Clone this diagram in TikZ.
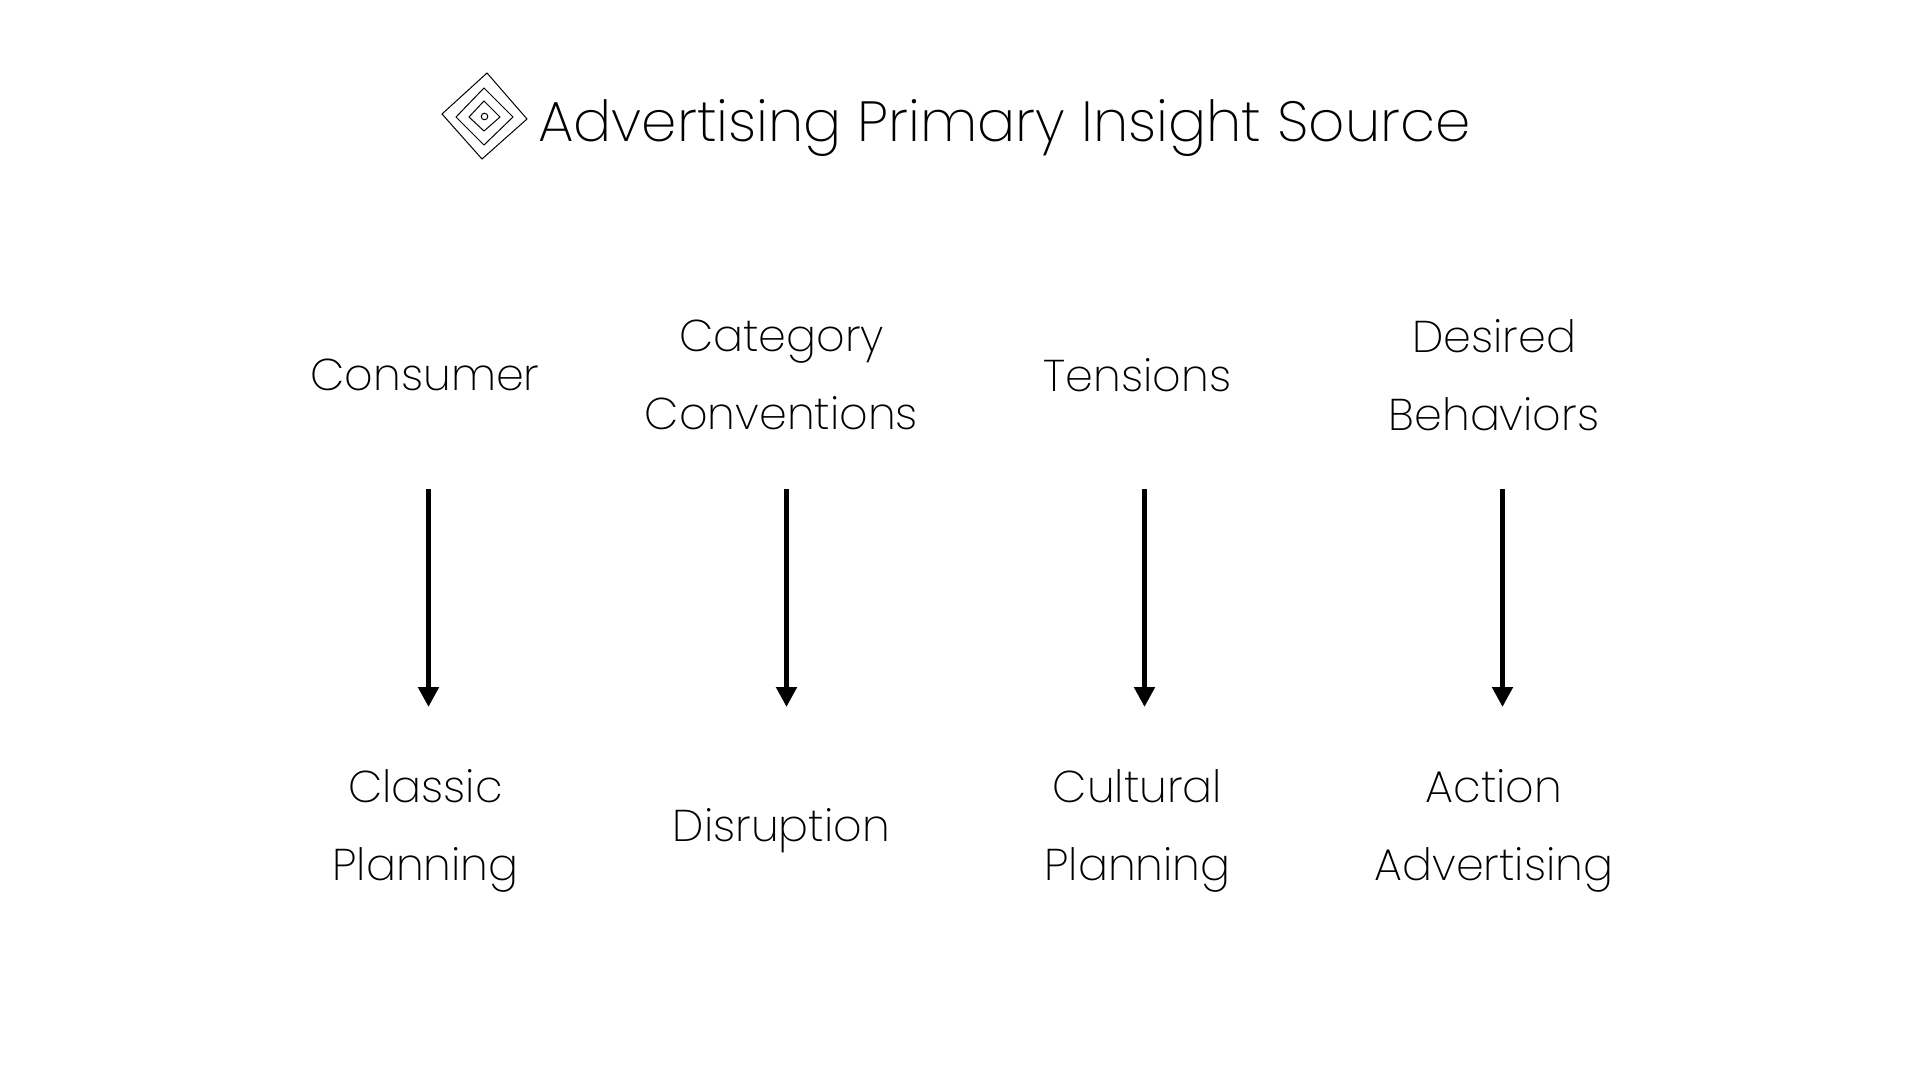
\documentclass[tikz,border=0pt]{standalone}
\usepackage{fontspec}
\setmainfont{Poppins ExtraLight}
\usetikzlibrary{arrows.meta}
\tikzset{lbl/.style={align=center,font=\fontsize{44.5}{78}\selectfont,text=black,inner sep=0pt},
arr/.style={line width=5pt,-{Triangle[length=20pt,width=20pt]}},
dia/.style={draw=black,line width=1pt,fill=none}}
\begin{document}
\begin{tikzpicture}[x=1pt,y=-1pt]
\useasboundingbox (0,0) rectangle (1920,1080);
\node[font=\fontsize{56.6}{60}\selectfont,anchor=base west,inner sep=0pt] (title) at (538,141) {Advertising Primary Insight Source};
\draw[dia] (442,114)--(487,73)--(527,119)--(482,159)--cycle;
\draw[dia] (456,117)--(484,88)--(513,117)--(484,145)--cycle;
\draw[dia] (469,117)--(484,101)--(500,117)--(484,131)--cycle;
\draw[dia] (484.5,116.5) circle (3.3);
\node[lbl] (t1) at (425,375) {Consumer};
\node[lbl] (t2) at (781.5,375) {Category\\Conventions};
\node[lbl] (t3) at (1137.5,375) {Tensions};
\node[lbl] (t4) at (1494,375) {Desired\\Behaviors};
\node[lbl] (b1) at (425.5,831) {Classic\\Planning};
\node[lbl] (b2) at (781.5,831) {Disruption};
\node[lbl] (b3) at (1137.5,831) {Cultural\\Planning};
\node[lbl] (b4) at (1494,831) {Action\\Advertising};
\coordinate (s1) at (428.5,489); \coordinate (e1) at (428.5,707);
\coordinate (s2) at (786.5,489); \coordinate (e2) at (786.5,707);
\coordinate (s3) at (1144.5,489); \coordinate (e3) at (1144.5,707);
\coordinate (s4) at (1502.5,489); \coordinate (e4) at (1502.5,707);
\foreach \i in {1,2,3,4}{\draw[arr] (s\i)--(e\i);}
\end{tikzpicture}
\end{document}
